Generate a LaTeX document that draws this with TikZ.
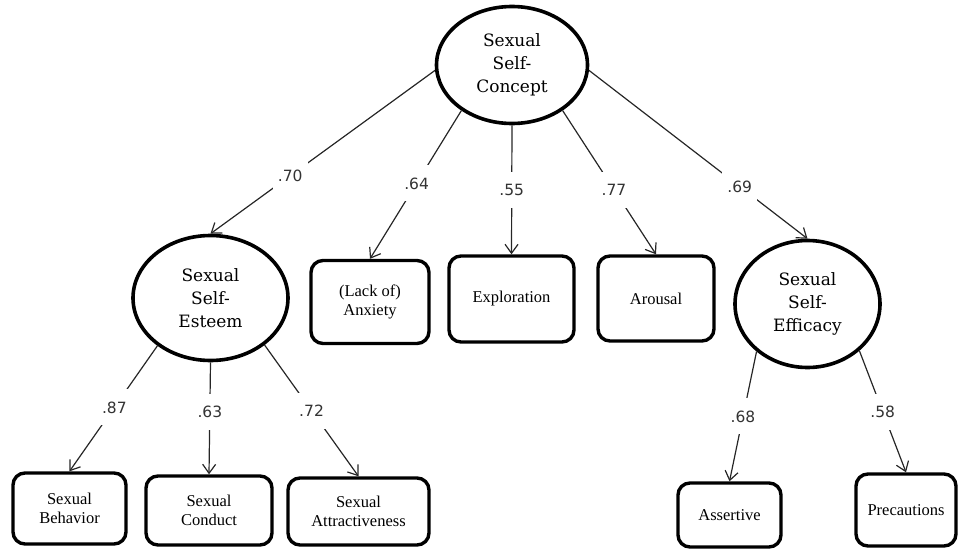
\documentclass[tikz,border=0pt]{standalone}
\usepackage{fontspec}
\usetikzlibrary{arrows.meta,shapes.geometric}
\newfontfamily\slabfont{DejaVu Serif}
\newfontfamily\boxfont{Liberation Serif}
\newfontfamily\numfont{DejaVu Sans}

\begin{document}
\begin{tikzpicture}[x=1pt, y=-1pt,
  factor/.style={draw, ellipse, line width=3.6pt, inner sep=0pt, align=center, font=\slabfont\fontsize{17}{23}\selectfont},
  item/.style={draw, rectangle, rounded corners=12pt, line width=3.4pt, inner sep=0pt, align=center, font=\boxfont\fontsize{16.5}{18.5}\selectfont},
  load/.style={line width=1.2pt, black!85, -{Straight Barb[length=9pt,width=13pt]}},
  coef/.style={fill=white, inner xsep=5pt, inner ysep=12pt, text height=12pt, text depth=0pt, text=black!80, font=\numfont\fontsize{15.5}{18}\selectfont}]

\useasboundingbox (0,0) rectangle (959,549);

% -------- Latent factors -----------
\node [factor, minimum width=151pt, minimum height=117pt] (concept)  at (512,65)    {Sexual\\Self-\\Concept};
\node [factor, minimum width=155pt, minimum height=125pt] (esteem)   at (210.5,298) {Sexual\\Self-\\Esteem};
\node [factor, minimum width=145pt, minimum height=127pt] (efficacy) at (807.5,304) {Sexual\\Self-\\Efficacy};

% -------- Indicators -----------
\node [item, minimum width=118pt, minimum height=83pt] (anxiety)     at (370,302)   {(Lack of)\\Anxiety};
\node [item, minimum width=125pt, minimum height=86pt] (exploration) at (511.5,299) {Exploration};
\node [item, minimum width=116pt, minimum height=85pt] (arousal)     at (656,298.5) {Arousal};

\node [item, minimum width=113pt, minimum height=71pt] (behavior)    at (69.5,508.5) {Sexual\\Behavior};
\node [item, minimum width=126pt, minimum height=69pt] (conduct)     at (209,510.5)  {Sexual\\Conduct};
\node [item, minimum width=141pt, minimum height=67pt] (attract)     at (358.5,511.5) {Sexual\\Attractiveness};
\node [item, minimum width=103pt, minimum height=64pt] (assertive)   at (729.5,515)  {Assertive};
\node [item, minimum width=100pt, minimum height=72pt] (precautions) at (906,510)    {Precautions};

% -------- Loadings -----------
\draw [load] (concept.184) -- node [coef, pos=0.645] {.70} (esteem.north);
\draw [load] (concept.222) -- node [coef, pos=0.49]  {.64} (anxiety.north);
\draw [load] (concept.south) -- node [coef, pos=0.5] {.55} (exploration.north);
\draw [load] (concept.318) -- node [coef, pos=0.55]  {.77} (arousal.north);
\draw [load] (concept.356) -- node [coef, pos=0.69]  {.69} (efficacy.north);

\draw [load] (esteem.222) -- node [coef, pos=0.49] {.87} (behavior.north);
\draw [load] (esteem.south) -- node [coef, pos=0.44] {.63} (conduct.north);
\draw [load] (esteem.319) -- node [coef, pos=0.5]  {.72} (attract.north);

\draw [load] (efficacy.223) -- node [coef, pos=0.5] {.68} (assertive.north);
\draw [load] (efficacy.318) -- node [coef, pos=0.5] {.58} (precautions.north);
\end{tikzpicture}
\end{document}
